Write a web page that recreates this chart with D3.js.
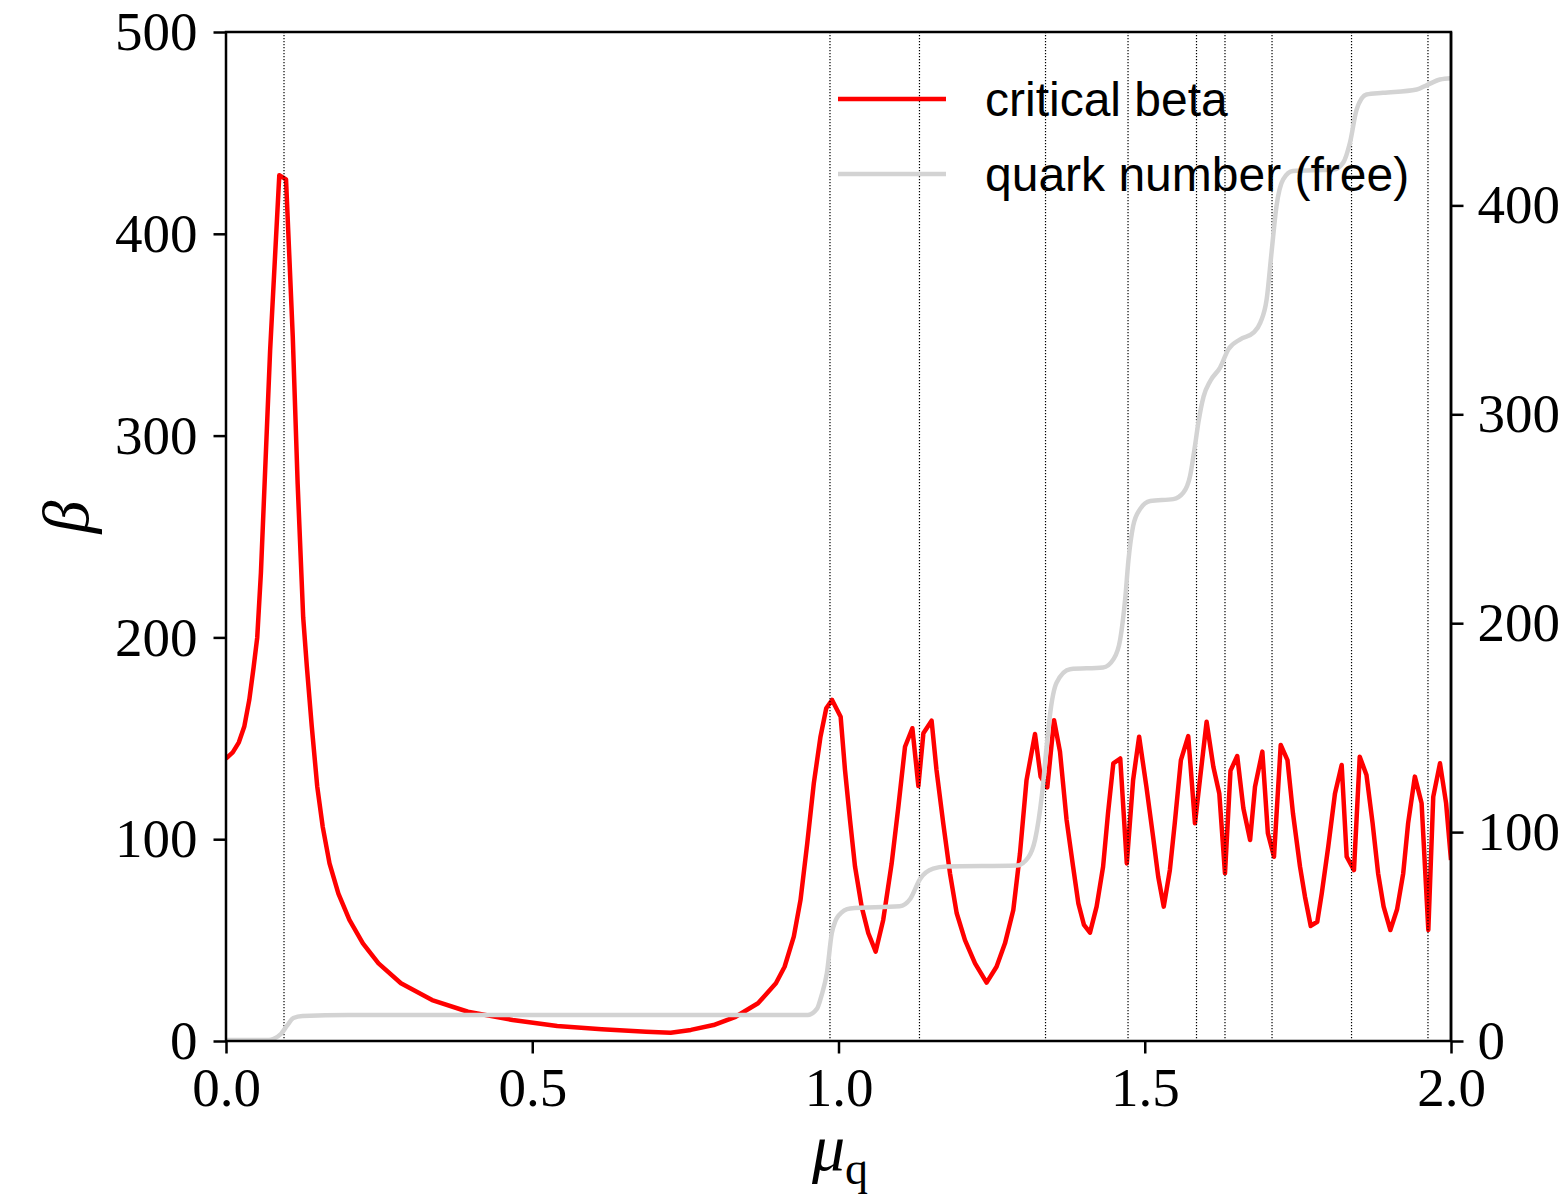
<!DOCTYPE html>
<html>
<head>
<meta charset="utf-8">
<script src="https://cdn.jsdelivr.net/npm/d3@7"></script>
<style>
  html, body { margin: 0; padding: 0; background: #fff; }
  svg { display: block; }
</style>
</head>
<body>
<svg id="chart" width="1566" height="1198"></svg>
<script>
// ---------------- DATA ----------------
// critical beta (left axis)
const muRed = [0.000, 0.011, 0.021, 0.030, 0.038, 0.045, 0.051, 0.057, 0.072, 0.087, 0.098, 0.109, 0.117, 0.126,
  0.132, 0.140, 0.149, 0.158, 0.169, 0.1835, 0.2015, 0.2235, 0.249, 0.2856, 0.3365, 0.395, 0.468, 0.5407,
  0.6135, 0.686, 0.726, 0.759, 0.796, 0.832, 0.8686, 0.8978, 0.912, 0.927, 0.938, 0.949, 0.9597, 0.9706,
  0.980, 0.9895, 1.0035, 1.0106, 1.0188, 1.027, 1.0378, 1.0487, 1.0607, 1.073, 1.0868, 1.0977, 1.1086,
  1.1206, 1.1304, 1.1386, 1.152, 1.160, 1.171, 1.182, 1.193, 1.2065, 1.2229, 1.2418, 1.258, 1.2718, 1.2854,
  1.2963, 1.307, 1.3208, 1.330, 1.3409, 1.3519, 1.3616, 1.3724, 1.383, 1.3916, 1.4008, 1.4106, 1.4214,
  1.432, 1.440, 1.4487, 1.460, 1.4707, 1.481, 1.4908, 1.5027, 1.5136, 1.522, 1.531, 1.541, 1.549, 1.559,
  1.571, 1.582, 1.590, 1.601, 1.612, 1.6217, 1.631, 1.640, 1.651, 1.661, 1.672, 1.680, 1.692, 1.701,
  1.711, 1.722, 1.733, 1.742, 1.7535, 1.7616, 1.771, 1.7817, 1.789, 1.7996, 1.8106, 1.8215, 1.8297,
  1.8416, 1.851, 1.862, 1.872, 1.881, 1.890, 1.901, 1.912, 1.922, 1.930, 1.941, 1.952, 1.963, 1.971,
  1.982, 1.992, 2.000];
const betaRed = [140, 143, 148, 156, 169, 185, 200, 232, 342, 429, 427, 349, 276, 210,
  185.5, 156, 126, 106, 88, 73, 60, 48.4, 38.5, 28.6, 20.3, 14.5, 10.4, 7.4,
  5.8, 4.6, 4.1, 5.5, 7.9, 12, 18.7, 28.6, 36.8, 51.7, 69.9, 98, 127.7, 150.8,
  164.9, 169, 160.7, 134.3, 109.5, 86.4, 66.6, 53.4, 44.3, 60, 88, 116, 145.8,
  155, 126.4, 152.5, 158.7, 134.3, 107.9, 83.1, 63.3, 50, 38.5, 28.9, 36.8, 48.4, 64.9,
  93, 129.3, 152.1, 131, 125.7, 159, 143.4, 109.5, 86.4, 68.2, 57.5, 53.7, 66.6,
  86.4, 112.8, 137.6, 140, 88, 129.3, 150.8, 126, 101.2, 81.4, 66.6, 84.7, 107.9, 139.2,
  151.1, 107.9, 129.3, 158.2, 135.9, 122.7, 83.1, 134, 141.2, 115.3, 99.6, 126, 143.4, 103,
  91.3, 146.7, 139.2, 112.8, 86.4, 71.5, 57, 59.1, 73.2, 96.3, 122.7, 136.8, 91.3,
  84.7, 140.9, 131.8, 107.9, 83.1, 66.6, 55, 65.3, 83.1, 107.9, 131, 117.8, 55, 121,
  137.6, 117.8, 89.7];

// quark number (free) (right axis)
const muQuark = [0.000, 0.070, 0.078, 0.090, 0.100, 0.110, 0.125, 0.200, 0.950, 0.965, 0.972, 0.981, 0.989,
  0.995, 1.000, 1.019, 1.100, 1.117, 1.133, 1.1545, 1.176, 1.291, 1.310, 1.321, 1.332, 1.340, 1.345,
  1.356, 1.378, 1.432, 1.449, 1.460, 1.468, 1.4735, 1.481, 1.492, 1.509, 1.5466, 1.563, 1.574, 1.582,
  1.5875, 1.596, 1.607, 1.623, 1.6365, 1.656, 1.6775, 1.6887, 1.699, 1.707, 1.715, 1.726, 1.742,
  1.808, 1.824, 1.835, 1.846, 1.862, 1.889, 1.944, 1.960, 1.982, 2.000];
const nQuark = [0, 0, 0.6, 3, 7, 10.5, 11.5, 12, 12, 15, 21, 32, 51,
  57, 59.5, 63, 64, 67.5, 77, 82, 83, 83.5, 87.5, 96, 117, 141, 155,
  171, 177.5, 178.3, 182.3, 191.9, 211, 230, 246, 254, 258, 258.9, 262, 270, 284.4,
  295.5, 308, 315.5, 321.9, 330.6, 335.4, 338.6, 343.4, 354.5, 377, 399, 412, 416,
  416.7, 420, 429.5, 445.5, 452.6, 453.4, 455, 457, 459.8, 460.4];

// vertical dotted markers
const levelMu = [0.0947, 0.9861, 1.1322, 1.3380, 1.4727, 1.5845, 1.6310, 1.7078, 1.8376, 1.9624];

// ticks
const xTicks = [0, 0.5, 1.0, 1.5, 2.0];
const yLeftTicks = [0, 100, 200, 300, 400, 500];
const yRightTicks = [0, 100, 200, 300, 400];

const legendLabels = ["critical beta", "quark number (free)"];

// ---------------- LAYOUT ----------------
const L = 226, R = 1451, T = 32, B = 1041;
const svg = d3.select("#chart");
svg.append("rect").attr("width", 1566).attr("height", 1198).attr("fill", "#fff");

const x = d3.scaleLinear().domain([0, 2]).range([L, R]);
const yL = d3.scaleLinear().domain([0, 500]).range([B, T]);
const yR = d3.scaleLinear().domain([0, 483]).range([B, T]);

const serif = "'Liberation Serif', 'DejaVu Serif', serif";
const sans = "'Liberation Sans', Arial, sans-serif";

// clip
svg.append("clipPath").attr("id", "plotclip")
  .append("rect").attr("x", L).attr("y", T - 3).attr("width", R - L).attr("height", B - T + 3);

const plot = svg.append("g").attr("clip-path", "url(#plotclip)");

// red curve
const redData = muRed.map((m, i) => [m, betaRed[i]]);
plot.append("path")
  .datum(redData)
  .attr("fill", "none")
  .attr("stroke", "#ff0000")
  .attr("stroke-width", 4.5)
  .attr("stroke-linejoin", "round")
  .attr("d", d3.line().x(d => x(d[0])).y(d => yL(d[1])));

// dotted lines
plot.selectAll("line.level")
  .data(levelMu)
  .enter().append("line")
  .attr("class", "level")
  .attr("x1", d => x(d)).attr("x2", d => x(d))
  .attr("y1", T).attr("y2", B)
  .attr("stroke", "#000")
  .attr("stroke-width", 1.2)
  .attr("stroke-dasharray", "1.2,1.8");

// frame
svg.append("rect")
  .attr("x", L).attr("y", T).attr("width", R - L).attr("height", B - T)
  .attr("fill", "none").attr("stroke", "#000").attr("stroke-width", 2.5);

// gray curve (twin axis, drawn above)
const grayData = muQuark.map((m, i) => [m, nQuark[i]]);
plot.append("path")
  .datum(grayData)
  .attr("fill", "none")
  .attr("stroke", "#d3d3d3")
  .attr("stroke-width", 4.5)
  .attr("stroke-linejoin", "round")
  .attr("d", d3.line().curve(d3.curveMonotoneX).x(d => x(d[0])).y(d => yR(d[1]) - 1));

// axes
function styleAxis(g) {
  g.select(".domain").remove();
  g.selectAll(".tick line").attr("stroke", "#000").attr("stroke-width", 2.5);
  g.selectAll(".tick text").attr("font-family", serif).attr("font-size", 55).attr("fill", "#000");
}

svg.append("g")
  .attr("transform", `translate(0,${B})`)
  .call(d3.axisBottom(x).tickValues(xTicks).tickFormat(d3.format(".1f")).tickSize(12.5).tickPadding(13))
  .call(styleAxis);

svg.append("g")
  .attr("transform", `translate(${L},0)`)
  .call(d3.axisLeft(yL).tickValues(yLeftTicks).tickFormat(d3.format("d")).tickSize(12.5).tickPadding(16))
  .call(styleAxis);

svg.append("g")
  .attr("transform", `translate(${R},0)`)
  .call(d3.axisRight(yR).tickValues(yRightTicks).tickFormat(d3.format("d")).tickSize(12.5).tickPadding(14))
  .call(styleAxis);

// right spine on top
svg.append("line").attr("x1", R).attr("x2", R).attr("y1", T).attr("y2", B)
  .attr("stroke", "#000").attr("stroke-width", 2.5);

// axis labels
svg.append("text")
  .attr("transform", "translate(88,517) rotate(-90)")
  .attr("text-anchor", "middle")
  .attr("font-family", serif)
  .attr("font-style", "italic")
  .attr("font-size", 66)
  .text("β");

const xl = svg.append("text")
  .attr("x", 840).attr("y", 1170)
  .attr("text-anchor", "middle")
  .attr("font-family", serif);
xl.append("tspan").attr("font-style", "italic").attr("font-size", 66).text("μ");
xl.append("tspan").attr("font-size", 46).attr("dy", 14).text("q");

// legend
const legColors = ["#ff0000", "#d3d3d3"];
const legY = [99, 174];
const leg = svg.append("g");
legendLabels.forEach((lab, i) => {
  leg.append("line")
    .attr("x1", 838).attr("x2", 946)
    .attr("y1", legY[i]).attr("y2", legY[i])
    .attr("stroke", legColors[i]).attr("stroke-width", 4.5);
  leg.append("text")
    .attr("x", 985).attr("y", legY[i] + 17)
    .attr("font-family", sans)
    .attr("font-size", 48)
    .attr("fill", "#000")
    .text(lab);
});
</script>
</body>
</html>
